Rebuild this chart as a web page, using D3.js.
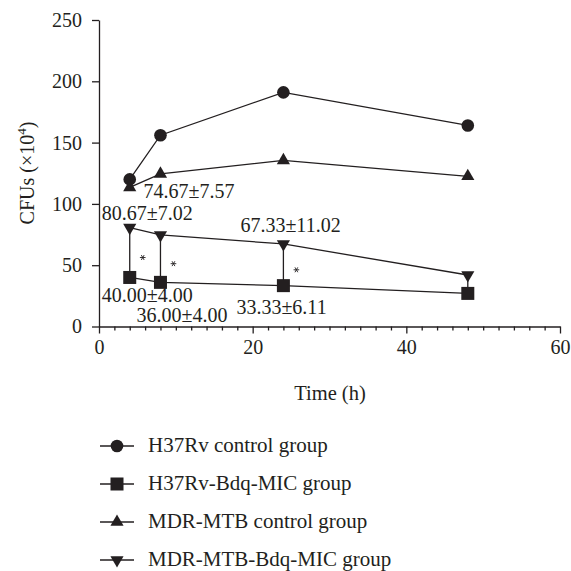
<!DOCTYPE html>
<html>
<head>
<meta charset="utf-8">
<script src="https://cdn.jsdelivr.net/npm/d3@7"></script>
<style>
  body { margin: 0; background: #fff; }
  svg { display: block; font-family: "Liberation Serif", "DejaVu Serif", serif; }
</style>
</head>
<body>
<svg id="chart" width="571" height="571"></svg>
<script>
// data
const hours = [4, 8, 24, 48];
const h37rvControl = [120, 156, 191, 164];
const h37rvBdq = [40, 36, 33.33, 27];
const mdrControl = [113.5, 124.5, 135.5, 122.5];
const mdrBdq = [80.67, 74.67, 67.33, 42];

const seriesNames = ['H37Rv control group', 'H37Rv-Bdq-MIC group', 'MDR-MTB control group', 'MDR-MTB-Bdq-MIC group'];
const seriesValues = [h37rvControl, h37rvBdq, mdrControl, mdrBdq];
const seriesSymbols = ['circle', 'square', 'up', 'down'];

const xTicks = [0, 20, 40, 60];
const yTicks = [0, 50, 100, 150, 200, 250];

// mean±sd labels: [series index, point index, text]
const meanLabels = [
  [3, 0, '80.67±7.02'],
  [3, 1, '74.67±7.57'],
  [3, 2, '67.33±11.02'],
  [1, 0, '40.00±4.00'],
  [1, 1, '36.00±4.00'],
  [1, 2, '33.33±6.11']
];
// significance marks between the two Bdq groups
const sigHours = [4, 8, 24];

// label offsets from their point (px), same order as meanLabels
const labelOffsets = [[-28, -8], [-17, -37], [-43, -12], [-28, 25], [-24, 40], [-47, 28]];

const svg = d3.select('#chart');
const mLeft = 99, mRight = 560, mTop = 20, mBottom = 326.5;
const ink = '#231f20';

const x = d3.scaleLinear().domain([0, 60]).range([mLeft, mRight]);
const y = d3.scaleLinear().domain([0, 250]).range([mBottom, mTop]);

// axes
svg.append('g')
  .attr('transform', `translate(0,${mBottom})`)
  .call(d3.axisBottom(x).tickValues(xTicks).tickSize(7).tickSizeOuter(0).tickPadding(6));
svg.append('g')
  .attr('transform', `translate(0,${mBottom})`)
  .call(d3.axisBottom(x).tickValues(d3.range(0, 61, 2).filter(v => v % 20)).tickSize(4).tickFormat(''))
  .call(g => g.select('.domain').remove());
svg.append('g')
  .attr('transform', `translate(${mLeft},0)`)
  .call(d3.axisLeft(y).tickValues(yTicks).tickSize(7).tickSizeOuter(0).tickPadding(10));

svg.selectAll('.domain, .tick line').attr('stroke', ink).attr('stroke-width', 1.3);
svg.selectAll('.tick text')
  .attr('fill', ink)
  .style('font-size', '20px')
  .style('font-family', '"Liberation Serif", serif');

// axis titles
svg.append('text')
  .attr('x', 330).attr('y', 400)
  .attr('text-anchor', 'middle')
  .style('font-size', '20.5px')
  .attr('fill', ink)
  .text('Time (h)');

const yTitle = svg.append('text')
  .attr('transform', 'translate(34,173) rotate(-90)')
  .attr('text-anchor', 'middle')
  .style('font-size', '20px')
  .attr('fill', ink);
yTitle.append('tspan').text('CFUs (×10');
yTitle.append('tspan').attr('dy', -8).style('font-size', '13px').text('4');
yTitle.append('tspan').attr('dy', 8).text(')');

// marker drawing helper
function drawMarker(g, kind, cx, cy) {
  if (kind === 'circle') {
    g.append('circle').attr('cx', cx).attr('cy', cy).attr('r', 6.3).attr('fill', ink);
  } else if (kind === 'square') {
    g.append('rect').attr('x', cx - 6.5).attr('y', cy - 6.5).attr('width', 13).attr('height', 13).attr('fill', ink);
  } else {
    const sym = d3.symbol().type(d3.symbolTriangle).size(75);
    g.append('path')
      .attr('d', sym())
      .attr('transform', `translate(${cx},${cy})` + (kind === 'down' ? ' rotate(180)' : ''))
      .attr('fill', ink);
  }
}

// vertical connectors between MDR-MTB-Bdq and H37Rv-Bdq
const plot = svg.append('g');
plot.selectAll('line.conn')
  .data(hours)
  .join('line')
  .attr('class', 'conn')
  .attr('x1', d => x(d)).attr('x2', d => x(d))
  .attr('y1', (d, i) => y(mdrBdq[i]))
  .attr('y2', (d, i) => y(h37rvBdq[i]))
  .attr('stroke', ink)
  .attr('stroke-width', 1.3);

const line = d3.line().x((d, i) => x(hours[i])).y(d => y(d));

seriesValues.forEach(vals => {
  plot.append('path')
    .attr('d', line(vals))
    .attr('fill', 'none')
    .attr('stroke', ink)
    .attr('stroke-width', 1.3);
});
seriesValues.forEach((vals, s) => {
  vals.forEach((v, i) => drawMarker(plot, seriesSymbols[s], x(hours[i]), y(v)));
});

// asterisks
const star = d3.symbol().type(d3.symbolAsterisk).size(22);
plot.selectAll('path.sig')
  .data(sigHours)
  .join('path')
  .attr('class', 'sig')
  .attr('d', star())
  .attr('transform', d => {
    const i = hours.indexOf(d);
    const cy = (y(mdrBdq[i]) + y(h37rvBdq[i])) / 2 + 5;
    return `translate(${x(d) + 13},${cy}) rotate(90)`;
  })
  .attr('fill', 'none')
  .attr('stroke', ink)
  .attr('stroke-width', 0.9);

// mean±sd labels
plot.selectAll('text.lab')
  .data(meanLabels)
  .join('text')
  .attr('class', 'lab')
  .attr('x', (d, k) => x(hours[d[1]]) + labelOffsets[k][0])
  .attr('y', (d, k) => y(seriesValues[d[0]][d[1]]) + labelOffsets[k][1])
  .style('font-size', '20px')
  .attr('fill', ink)
  .text(d => d[2]);

// legend
const legend = svg.append('g');
seriesNames.forEach((name, s) => {
  const cy = 446 + s * 38;
  legend.append('line')
    .attr('x1', 100).attr('x2', 134).attr('y1', cy).attr('y2', cy)
    .attr('stroke', ink).attr('stroke-width', 1.3);
  drawMarker(legend, seriesSymbols[s], 117, cy);
  legend.append('text')
    .attr('x', 148).attr('y', cy + 6)
    .style('font-size', '21px')
    .attr('fill', ink)
    .text(name);
});
</script>
</body>
</html>
